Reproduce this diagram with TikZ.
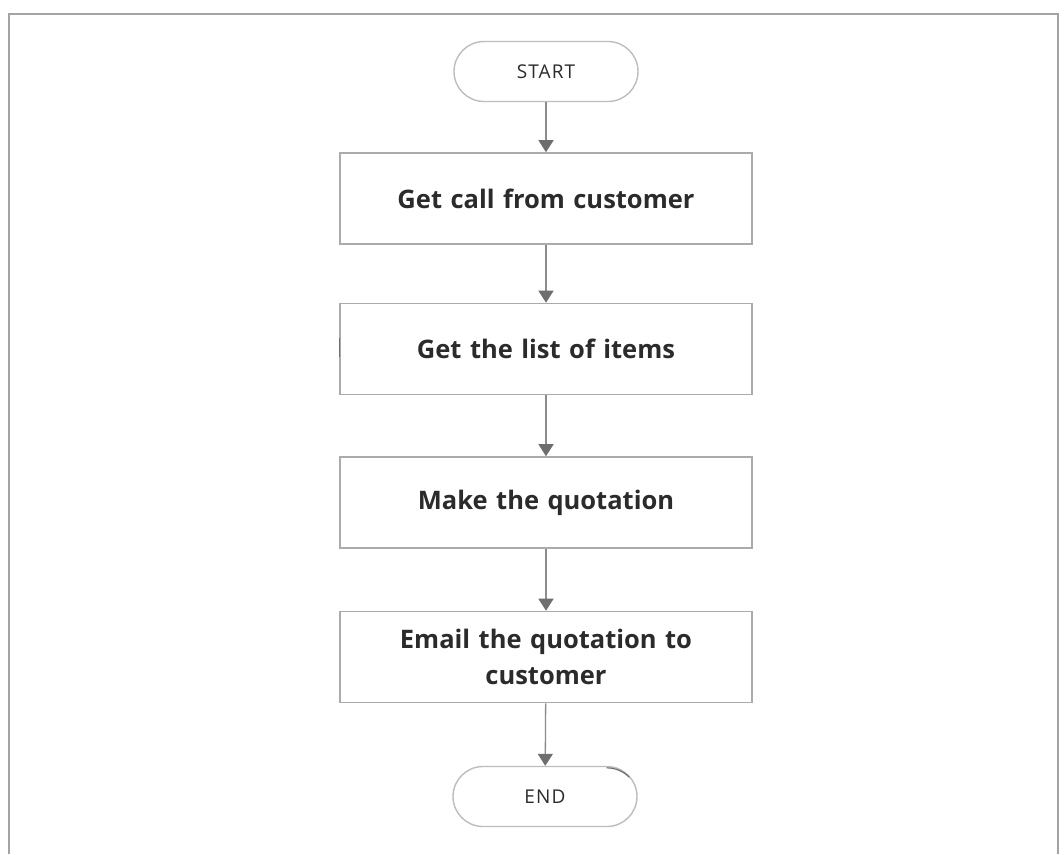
\documentclass[tikz,border=0pt]{standalone}
\usepackage{fontspec}
\setmainfont{Open Sans}
\usetikzlibrary{arrows.meta}
\definecolor{framegray}{HTML}{A4A4A4}
\definecolor{boxgray}{HTML}{ABABAB}
\definecolor{termgray}{HTML}{BDBDBD}
\definecolor{linkgray}{HTML}{8C8C8C}
\definecolor{headgray}{HTML}{6E6E6E}
\definecolor{inkgray}{HTML}{2B2B2B}
\tikzset{
  stepbox/.style={draw=boxgray, line width=1.6pt, fill=white,
    minimum width=412pt, minimum height=91pt, inner sep=4pt,
    align=center, text width=390pt, text=inkgray,
    font=\fontsize{25.5}{36}\selectfont\bfseries},
  terminal/.style={draw=termgray, line width=1.4pt, fill=white,
    minimum width=184pt, minimum height=60pt, rounded corners=30pt,
    text=inkgray, font=\fontsize{19}{22}\selectfont\addfontfeature{LetterSpace=6}},
  link/.style={draw=linkgray, line width=1.3pt,
    -{Triangle[width=15pt,length=12pt,fill=headgray,color=headgray]}},
}
\begin{document}
\begin{tikzpicture}[x=1pt,y=-1pt]
  \useasboundingbox (0,0) rectangle (1064,854);
  \fill[white] (0,0) rectangle (1064,854);
  % open frame round the chart (no bottom edge)
  \draw[framegray, line width=1.5pt] (9,854) -- (9,14) -- (1058,14) -- (1058,854);

  \node[terminal] (start) at (546,71.5) {START};
  \node[stepbox] (call)  at (546,198.5) {Get call from customer};
  \node[stepbox] (list)  at (546,349)   {Get the list of items};
  \node[stepbox] (quote) at (546,502.5) {Make the quotation};
  \node[stepbox] (mail)  at (546,657)   {Email the quotation to\\customer};
  \node[terminal] (end)  at (545,796.5) {END};

  \draw[link] (start) -- (call);
  \draw[link] (call)  -- (list);
  \draw[link] (list)  -- (quote);
  \draw[link] (quote) -- (mail);
  \draw[link] (mail)  -- (end);

  % darker stroke marks on two borders
  \draw[headgray, line width=1.2pt] ([yshift=11pt]list.west) -- ([yshift=-8pt]list.west);
  \draw[headgray, line width=1.2pt] ([xshift=-31pt,yshift=-2pt]end.north east) arc[start angle=90, end angle=45, radius=32pt];
\end{tikzpicture}
\end{document}
